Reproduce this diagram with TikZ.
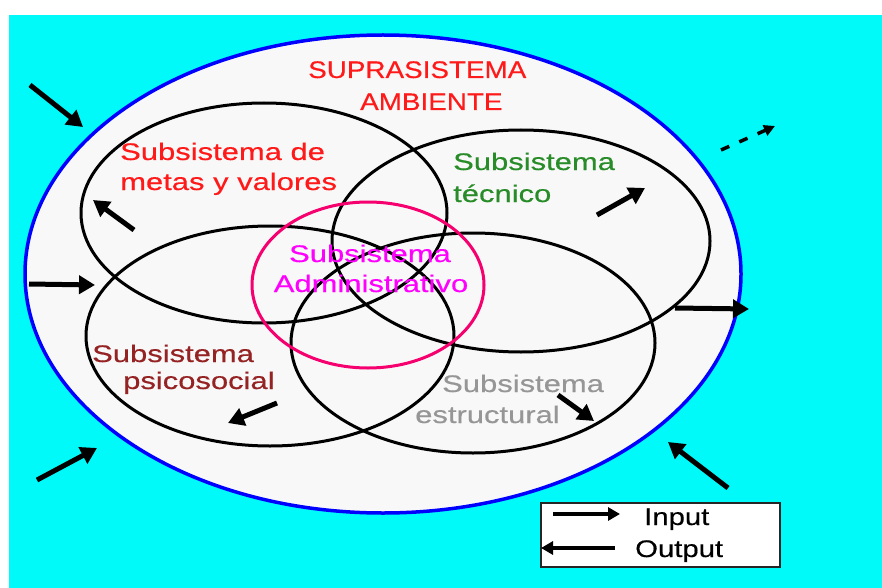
\documentclass[tikz,border=0pt]{standalone}
\usepackage{fontspec}
\setmainfont{Liberation Sans}
\newfontfamily\lowf[FakeStretch=1.29,FakeBold=0.4]{Liberation Sans}
\newfontfamily\capf[FakeStretch=1.16,FakeBold=0.4]{Liberation Sans}
\newfontfamily\legf[FakeStretch=1.22,FakeBold=0.4]{Liberation Sans}
\usetikzlibrary{shapes.geometric, arrows.meta}
\definecolor{bgcyan}{RGB}{0,250,250}
\definecolor{innerfill}{RGB}{248,248,248}
\definecolor{txred}{RGB}{255,25,25}
\definecolor{txgreen}{RGB}{40,140,40}
\definecolor{txmag}{RGB}{255,0,255}
\definecolor{txmaroon}{RGB}{150,35,35}
\definecolor{txgray}{RGB}{150,150,150}
\definecolor{pinkline}{RGB}{245,0,110}
\begin{document}
\begin{tikzpicture}[x=1pt,y=-1pt,
  subsys/.style={draw=black, line width=3pt, ellipse, inner sep=0pt},
  lbl/.style={inner sep=0pt, anchor=base west, font=\lowf\fontsize{24}{28}\selectfont},
  caplbl/.style={inner sep=0pt, anchor=base west, font=\capf\fontsize{24}{28}\selectfont, text=txred},
  leglbl/.style={inner sep=0pt, anchor=base west, font=\legf\fontsize{24}{28}\selectfont, text=black},
  arr/.style={line width=5pt, -{Triangle[length=16pt,width=18pt]}},
  legarr/.style={line width=3.5pt, -{Triangle[length=12pt,width=13pt]}}
]
\useasboundingbox (0,0) rectangle (882,588);
\fill[white] (0,0) rectangle (882,588);
\fill[bgcyan] (9,15) rectangle (882,588);

% suprasystem
\node[ellipse, draw=blue, fill=innerfill, line width=3.5pt, inner sep=0pt,
      minimum width=716pt, minimum height=478pt] (supra) at (383,274) {};

% subsystems
\node[subsys, minimum width=366pt, minimum height=220pt] (metas) at (264,213) {};
\node[subsys, minimum width=378pt, minimum height=222pt] (tecnico) at (521,241) {};
\node[subsys, minimum width=368pt, minimum height=220pt] (psico) at (270,336) {};
\node[subsys, minimum width=364pt, minimum height=220pt] (estruc) at (473,343) {};
\node[ellipse, draw=pinkline, line width=3pt, inner sep=0pt,
      minimum width=232pt, minimum height=166pt] (admin) at (368,285) {};

% texts
\node[caplbl] (t1) at (308,78) {SUPRASISTEMA};
\node[caplbl] (t2) at (360,110) {AMBIENTE};
\node[lbl, text=txred] (m1) at (120,160) {Subsistema de};
\node[lbl, text=txred] (m2) at (120,190) {metas y valores};
\node[lbl, text=txgreen] (c1) at (453,170) {Subsistema};
\node[lbl, text=txgreen] (c2) at (453,202) {técnico};
\node[lbl, text=txmag, anchor=base] (a1) at (370,262) {Subsistema};
\node[lbl, text=txmag, anchor=base] (a2) at (371,292) {Administrativo};
\node[lbl, text=txmaroon] (p1) at (92,362) {Subsistema};
\node[lbl, text=txmaroon] (p2) at (123,389) {psicosocial};
\node[lbl, text=txgray] (e1) at (442,392) {Subsistema};
\node[lbl, text=txgray] (e2) at (415,423) {estructural};

% outer arrows
\coordinate (o1a) at (30,85);   \coordinate (o1b) at (83,127);
\coordinate (o2a) at (29,284);  \coordinate (o2b) at (95,285);
\coordinate (o3a) at (37,480);  \coordinate (o3b) at (97,448);
\coordinate (o4a) at (728,488); \coordinate (o4b) at (668,442);
\coordinate (o5a) at (675,308); \coordinate (o5b) at (749,309);
\draw[arr] (o1a) -- (o1b);
\draw[arr] (o2a) -- (o2b);
\draw[arr] (o3a) -- (o3b);
\draw[arr] (o4a) -- (o4b);
\draw[arr] (o5a) -- (o5b);
\coordinate (o6a) at (721,150); \coordinate (o6b) at (775,126);
\draw[line width=3.5pt, dash pattern=on 9pt off 11pt, -{Triangle[length=11pt,width=11pt]}] (o6a) -- (o6b);

% inner arrows
\coordinate (i1a) at (134,230); \coordinate (i1b) at (93,200);
\coordinate (i2a) at (597,215); \coordinate (i2b) at (645,188);
\coordinate (i3a) at (277,403); \coordinate (i3b) at (228,423);
\coordinate (i4a) at (558,395); \coordinate (i4b) at (594,421);
\draw[arr] (i1a) -- (i1b);
\draw[arr] (i2a) -- (i2b);
\draw[arr] (i3a) -- (i3b);
\draw[arr] (i4a) -- (i4b);

% legend
\node[draw=black!85, fill=white, line width=2pt, inner sep=0pt, anchor=north west,
      minimum width=239pt, minimum height=64pt] (legend) at (540,502) {};
\coordinate (l1a) at (553,514); \coordinate (l1b) at (620,514);
\coordinate (l2a) at (615,548); \coordinate (l2b) at (541,548);
\draw[legarr] (l1a) -- (l1b);
\draw[legarr] (l2a) -- (l2b);
\node[leglbl] (inp) at (644,525) {Input};
\node[leglbl] (outp) at (635,557) {Output};
\end{tikzpicture}
\end{document}
